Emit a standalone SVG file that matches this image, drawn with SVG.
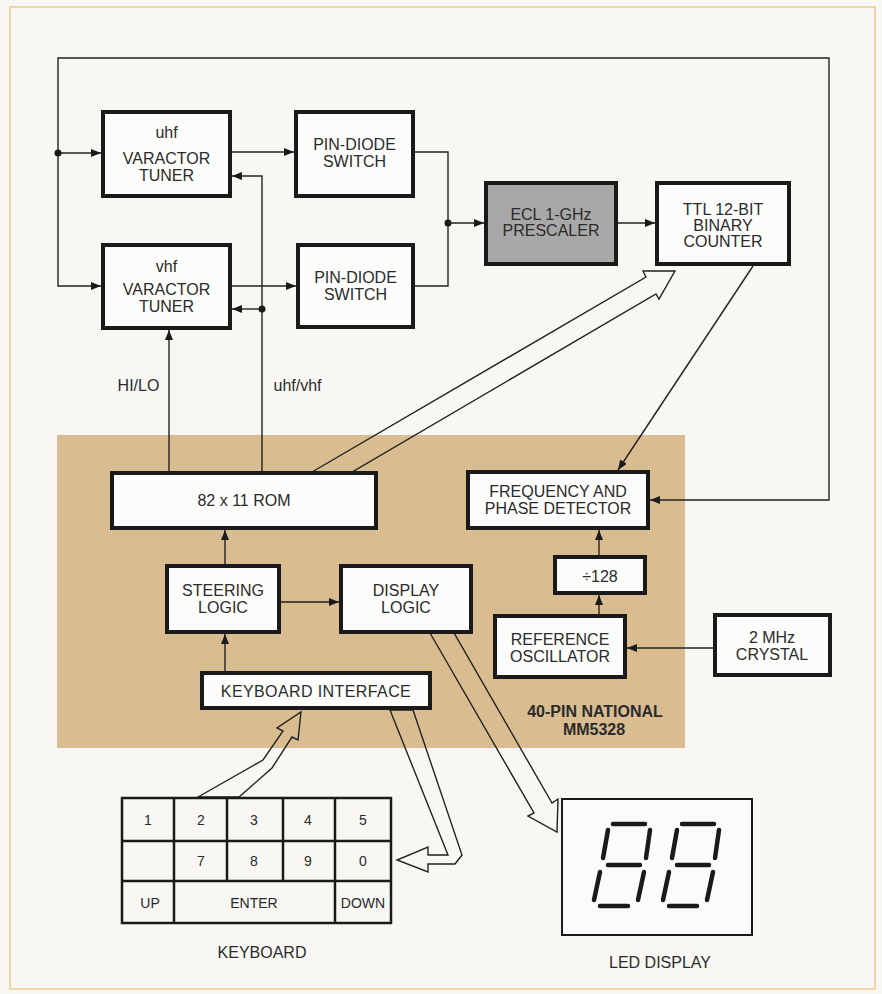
<svg xmlns="http://www.w3.org/2000/svg" width="882" height="994" viewBox="0 0 882 994">
<defs>
<style>
.box{fill:#fcfcfa;stroke:#1a1a1a;stroke-width:4}
.ecl{fill:#a8a8a8;stroke:#1a1a1a;stroke-width:4}
.ln{fill:none;stroke:#222;stroke-width:1.4}
.bus{fill:none;stroke:#222;stroke-width:1.4;stroke-linejoin:miter}
.grid{fill:none;stroke:#1a1a1a;stroke-width:2.5}
.t{font-family:"Liberation Sans",Arial,sans-serif;font-size:16px;fill:#2b2b2b;text-anchor:middle}
.k{font-size:14px}
.b{font-weight:bold}
.seg{stroke:#1a1a1a;stroke-width:4.5;stroke-linecap:round}
.dot{fill:#1a1a1a}
</style>
<marker id="ah" markerUnits="userSpaceOnUse" markerWidth="12" markerHeight="10" refX="10" refY="4" orient="auto">
<path d="M0,0 L10,4 L0,8 z" fill="#1a1a1a"/>
</marker>
</defs>
<rect x="0" y="0" width="882" height="994" fill="#f8f7f3"/>
<rect x="10" y="7" width="865" height="982" fill="none" stroke="#eed6a8" stroke-width="2"/>
<rect x="57" y="435" width="628" height="313" fill="#d9bc90"/>

<g id="connectors">
<path class="ln" d="M58,153 L58,58 L829,58 L829,500 L650,500" marker-end="url(#ah)"/>
<path class="ln" d="M58,153 L101,153" marker-end="url(#ah)"/>
<path class="ln" d="M58,153 L58,286 L101,286" marker-end="url(#ah)"/>
<circle class="dot" cx="58" cy="153" r="3.5"/>
<path class="ln" d="M232,152 L294,152" marker-end="url(#ah)"/>
<path class="ln" d="M232,286 L296,286" marker-end="url(#ah)"/>
<path class="ln" d="M415,152 L448,152 L448,286 L415,286"/>
<circle class="dot" cx="448" cy="223" r="3.5"/>
<path class="ln" d="M448,223 L484,223" marker-end="url(#ah)"/>
<path class="ln" d="M618,223 L655,223" marker-end="url(#ah)"/>
<path class="ln" d="M753,266 L618,470" marker-end="url(#ah)"/>
<path class="ln" d="M262,471 L262,176 L232,176" marker-end="url(#ah)"/>
<path class="ln" d="M262,309 L232,309" marker-end="url(#ah)"/>
<circle class="dot" cx="262" cy="309" r="3.5"/>
<path class="ln" d="M169,471 L169,330" marker-end="url(#ah)"/>
<path class="ln" d="M225,564 L225,530" marker-end="url(#ah)"/>
<path class="ln" d="M225,671 L225,634" marker-end="url(#ah)"/>
<path class="ln" d="M281,602 L339,602" marker-end="url(#ah)"/>
<path class="ln" d="M599,555 L599,530" marker-end="url(#ah)"/>
<path class="ln" d="M599,614 L599,595" marker-end="url(#ah)"/>
<path class="ln" d="M713,648 L627,648" marker-end="url(#ah)"/>
<polygon class="bus" points="312,472 646,277 643,271 675,271 659,299 656,294 352,472"/>
<polygon class="bus" points="430,633 534,813 528,816 557,832 558,799 552,803 454,633"/>
<polygon class="bus" points="198,797 263,760 283,731 277,728 301,712 298,740 292,737 272,768 239,797"/>
<polygon class="bus" points="390,710 448,855 428,855 428,847 397,860 428,872 428,864 455,864 462,855 413,710"/>
</g>

<g id="uhf-tuner">
<rect class="box" x="103" y="112" width="127" height="84"/>
<text class="t" x="166.5" y="138">uhf</text>
<text class="t" x="166.5" y="164">VARACTOR</text>
<text class="t" x="166.5" y="181">TUNER</text>
</g>
<g id="vhf-tuner">
<rect class="box" x="103" y="245" width="127" height="83"/>
<text class="t" x="166.5" y="272">vhf</text>
<text class="t" x="166.5" y="295">VARACTOR</text>
<text class="t" x="166.5" y="312">TUNER</text>
</g>
<g id="pin-switch-1">
<rect class="box" x="296" y="112" width="117" height="84"/>
<text class="t" x="354.5" y="150">PIN-DIODE</text>
<text class="t" x="354.5" y="167">SWITCH</text>
</g>
<g id="pin-switch-2">
<rect class="box" x="298" y="245" width="115" height="82"/>
<text class="t" x="355.5" y="283">PIN-DIODE</text>
<text class="t" x="355.5" y="300">SWITCH</text>
</g>
<g id="ecl-prescaler">
<rect class="ecl" x="486" y="183" width="130" height="81"/>
<text class="t" x="551" y="220">ECL 1-GHz</text>
<text class="t" x="551" y="236">PRESCALER</text>
</g>
<g id="ttl-counter">
<rect class="box" x="657" y="183" width="132" height="81"/>
<text class="t" x="723" y="215">TTL 12-BIT</text>
<text class="t" x="723" y="231">BINARY</text>
<text class="t" x="723" y="247">COUNTER</text>
</g>
<text class="t" x="138.5" y="391">HI/LO</text>
<text class="t" x="297.5" y="391">uhf/vhf</text>

<g id="rom">
<rect class="box" x="112" y="473" width="264" height="55"/>
<text class="t" x="244" y="506">82 x 11 ROM</text>
</g>
<g id="steering-logic">
<rect class="box" x="167" y="566" width="112" height="66"/>
<text class="t" x="223" y="596">STEERING</text>
<text class="t" x="223" y="613">LOGIC</text>
</g>
<g id="display-logic">
<rect class="box" x="341" y="566" width="130" height="66"/>
<text class="t" x="406" y="596">DISPLAY</text>
<text class="t" x="406" y="613">LOGIC</text>
</g>
<g id="keyboard-interface">
<rect class="box" x="202" y="673" width="228" height="35"/>
<text class="t" x="316" y="697" letter-spacing="0.4">KEYBOARD INTERFACE</text>
</g>
<g id="freq-phase-detector">
<rect class="box" x="468" y="472" width="180" height="56"/>
<text class="t" x="558" y="497">FREQUENCY AND</text>
<text class="t" x="558" y="514">PHASE DETECTOR</text>
</g>
<g id="divider">
<rect class="box" x="555" y="557" width="90" height="36"/>
<text class="t" x="600" y="582">÷128</text>
</g>
<g id="reference-oscillator">
<rect class="box" x="495" y="616" width="130" height="61"/>
<text class="t" x="560" y="645">REFERENCE</text>
<text class="t" x="560" y="662">OSCILLATOR</text>
</g>
<g id="crystal">
<rect class="box" x="715" y="615" width="115" height="60"/>
<text class="t" x="772" y="643">2 MHz</text>
<text class="t" x="772" y="660">CRYSTAL</text>
</g>
<text class="t b" x="595" y="717">40-PIN NATIONAL</text>
<text class="t b" x="594" y="735">MM5328</text>

<g id="keyboard">
<rect class="grid" x="122" y="798" width="269" height="125"/>
<line class="grid" x1="122" y1="841" x2="391" y2="841"/>
<line class="grid" x1="122" y1="881" x2="391" y2="881"/>
<line class="grid" x1="174" y1="798" x2="174" y2="923"/>
<line class="grid" x1="227" y1="798" x2="227" y2="881"/>
<line class="grid" x1="283" y1="798" x2="283" y2="881"/>
<line class="grid" x1="335" y1="798" x2="335" y2="923"/>
<text class="t k" x="148" y="825">1</text>
<text class="t k" x="201" y="825">2</text>
<text class="t k" x="254" y="825">3</text>
<text class="t k" x="308" y="825">4</text>
<text class="t k" x="363" y="825">5</text>
<text class="t k" x="201" y="866">7</text>
<text class="t k" x="254" y="866">8</text>
<text class="t k" x="308" y="866">9</text>
<text class="t k" x="363" y="866">0</text>
<text class="t k" x="150" y="908">UP</text>
<text class="t k" x="254" y="908">ENTER</text>
<text class="t k" x="363" y="908">DOWN</text>
<text class="t" x="262" y="958">KEYBOARD</text>
</g>

<g id="led-display">
<rect x="562" y="799" width="190" height="136" fill="#fbfbf9" stroke="#1a1a1a" stroke-width="2"/>
<g class="seg">
<line x1="613" y1="824" x2="645" y2="824"/>
<line x1="608" y1="830" x2="603" y2="858"/>
<line x1="650" y1="830" x2="646" y2="858"/>
<line x1="608" y1="865" x2="640" y2="865"/>
<line x1="600" y1="872" x2="594" y2="900"/>
<line x1="644" y1="872" x2="638" y2="900"/>
<line x1="600" y1="906" x2="628" y2="906"/>
<line x1="682" y1="824" x2="714" y2="824"/>
<line x1="677" y1="830" x2="672" y2="858"/>
<line x1="719" y1="830" x2="715" y2="858"/>
<line x1="677" y1="865" x2="709" y2="865"/>
<line x1="669" y1="872" x2="663" y2="900"/>
<line x1="713" y1="872" x2="707" y2="900"/>
<line x1="669" y1="906" x2="697" y2="906"/>
</g>
<text class="t" x="660" y="968">LED DISPLAY</text>
</g>
</svg>
